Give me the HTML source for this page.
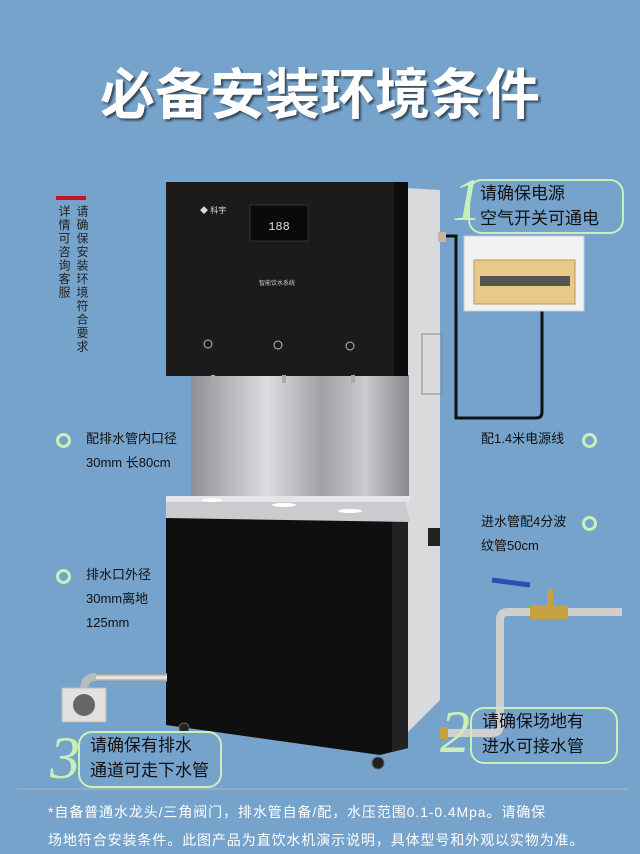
<!DOCTYPE html>
<html><head><meta charset="utf-8"><style>
body{margin:0;width:640px;height:849px;overflow:hidden;background:#76a3cb;font-family:"Liberation Sans","Noto Sans CJK SC",sans-serif;position:relative}
.a{position:absolute}
.t{color:#fff;font-size:55px;font-weight:bold;left:0;width:640px;text-align:center;top:50px;text-shadow:2px 2px 2px #345;letter-spacing:0px}
.lab{color:#111;font-size:13px;line-height:24px}
.ring{width:9px;height:9px;border:3px solid #c8f0b8;border-radius:50%}
.box{border:2px solid #c8f0b8;border-radius:14px;font-size:17px;color:#111;line-height:25px}
.num{color:#c8f0b8;font-size:60px;font-style:italic;font-family:"Liberation Serif",serif;line-height:60px}
.vt{writing-mode:vertical-rl;font-size:12px;color:#222;line-height:16px;letter-spacing:1.5px}
</style></head><body>
<div class="a t">必备安装环境条件</div>
<div class="a" style="left:56px;top:196px;width:30px;height:4px;background:#c8102e"></div>
<div class="a vt" style="left:56px;top:205px">详情可咨询客服</div>
<div class="a vt" style="left:74px;top:205px">请确保安装环境符合要求</div>

<svg class="a" style="left:0;top:0" width="640" height="849">
<defs>
<linearGradient id="st" x1="0" x2="1"><stop offset="0" stop-color="#8d9095"/><stop offset=".35" stop-color="#dcdde0"/><stop offset=".6" stop-color="#9ea1a5"/><stop offset=".8" stop-color="#c9cbce"/><stop offset="1" stop-color="#85888c"/></linearGradient>
<linearGradient id="pp" x1="0" y1="0" x2="0" y2="1"><stop offset="0" stop-color="#888"/><stop offset=".5" stop-color="#f2f2f2"/><stop offset="1" stop-color="#888"/></linearGradient>
</defs>
<polygon points="405,188 440,190 440,700 405,735" fill="#d9dadc"/>
<rect x="422" y="334" width="20" height="60" fill="none" stroke="#888" stroke-width="1"/>
<rect x="428" y="528" width="12" height="18" fill="#222"/>
<rect x="191" y="375" width="218" height="125" fill="url(#st)"/>
<rect x="166" y="182" width="242" height="194" fill="#1c1a1a"/>
<rect x="394" y="182" width="14" height="194" fill="#0c0c0c"/>
<rect x="250" y="205" width="58" height="36" fill="#0a0a0a" stroke="#333"/>
<text x="279" y="230" fill="#ddd" font-size="12" text-anchor="middle" font-family="Liberation Mono">188</text>
<text x="277" y="285" fill="#ccc" font-size="6" text-anchor="middle">智能饮水系统</text>
<circle cx="208" cy="344" r="4" fill="none" stroke="#bbb"/><circle cx="278" cy="345" r="4" fill="none" stroke="#bbb"/><circle cx="350" cy="346" r="4" fill="none" stroke="#bbb"/>
<text x="200" y="213" fill="#ddd" font-size="8">◆ 科宇</text>
<rect x="211" y="375" width="4" height="8" fill="#aaa"/><rect x="282" y="375" width="4" height="8" fill="#aaa"/><rect x="351" y="375" width="4" height="8" fill="#aaa"/>
<polygon points="166,515 408,515 408,748 380,755 166,725" fill="#0f0f10"/>
<polygon points="392,515 408,515 408,748 392,752" fill="#222"/>
<polygon points="166,498 405,500 410,522 166,518" fill="#c9cbce"/>
<rect x="166" y="496" width="244" height="6" fill="#e4e5e7"/>
<ellipse cx="212" cy="500" rx="10" ry="2" fill="#fff"/><ellipse cx="284" cy="505" rx="12" ry="2" fill="#fff"/><ellipse cx="350" cy="511" rx="12" ry="2" fill="#fff"/>
<circle cx="184" cy="728" r="5" fill="#222" stroke="#666"/><circle cx="378" cy="763" r="6" fill="#222" stroke="#666"/>
<rect x="438" y="232" width="8" height="10" fill="#c8b898"/>
<path d="M446,236 H456 V418 H536 Q542,418 542,412 V311" fill="none" stroke="#111" stroke-width="3"/>
<rect x="464" y="236" width="120" height="75" fill="#f1f1f1" stroke="#ccc"/>
<rect x="474" y="260" width="101" height="44" fill="#e9c98a" stroke="#b99a60"/>
<rect x="480" y="276" width="90" height="10" fill="#555"/>
<rect x="95" y="673" width="72" height="9" fill="url(#pp)"/>
<path d="M96,677 Q84,677 84,690 V705" stroke="#bbb" stroke-width="8" fill="none"/>
<rect x="62" y="688" width="44" height="34" fill="#e0e0e0" stroke="#bbb"/>
<circle cx="84" cy="705" r="11" fill="#666"/>
<path d="M445,733 H492 Q500,733 500,725 V620 Q500,612 508,612 H622" stroke="#cfcfcf" stroke-width="8" fill="none"/>
<rect x="530" y="605" width="38" height="14" fill="#c9a040"/>
<path d="M492,580 L530,585" stroke="#2a4fb0" stroke-width="5"/>
<rect x="547" y="589" width="6" height="16" fill="#c9a040"/>
<rect x="440" y="727" width="8" height="12" fill="#c9a040"/>
<line x1="17" y1="789" x2="628" y2="789" stroke="#9aaabb" stroke-width="2"/>
</svg>

<div class="a box" style="left:468px;top:179px;width:142px;height:51px;padding-left:10px">请确保电源<br>空气开关可通电</div>
<div class="a num" style="left:452px;top:170px">1</div>

<div class="a ring" style="left:56px;top:433px"></div>
<div class="a lab" style="left:86px;top:427px">配排水管内口径<br>30mm 长80cm</div>
<div class="a lab" style="left:481px;top:427px">配1.4米电源线</div>
<div class="a ring" style="left:582px;top:433px"></div>
<div class="a lab" style="left:481px;top:510px">进水管配4分波<br>纹管50cm</div>
<div class="a ring" style="left:582px;top:516px"></div>
<div class="a ring" style="left:56px;top:569px"></div>
<div class="a lab" style="left:86px;top:563px">排水口外径<br>30mm离地<br>125mm</div>

<div class="a box" style="left:470px;top:707px;width:134px;height:53px;padding-left:10px">请确保场地有<br>进水可接水管</div>
<div class="a num" style="left:440px;top:702px">2</div>
<div class="a box" style="left:78px;top:731px;width:130px;height:53px;padding-left:10px">请确保有排水<br>通道可走下水管</div>
<div class="a num" style="left:50px;top:728px">3</div>

<div class="a" style="left:48px;top:798px;color:#fff;font-size:14px;line-height:28px;width:580px;letter-spacing:0.9px;white-space:nowrap">*自备普通水龙头/三角阀门，排水管自备/配，水压范围0.1-0.4Mpa。请确保<br>场地符合安装条件。此图产品为直饮水机演示说明，具体型号和外观以实物为准。</div>
</body></html>
